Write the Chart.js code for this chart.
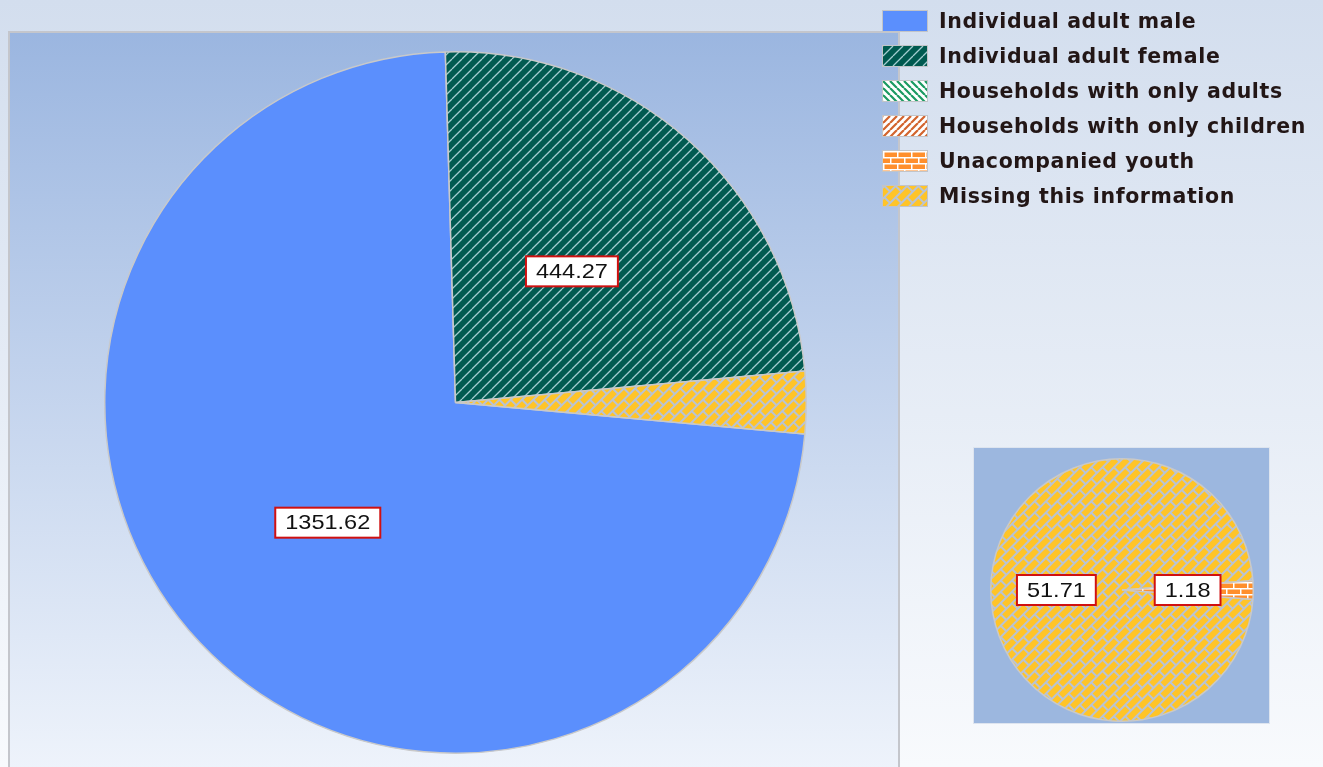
<!DOCTYPE html>
<html>
<head>
<meta charset="utf-8">
<script src="https://cdn.jsdelivr.net/npm/chart.js@4"></script>
<style>
  html, body { margin: 0; padding: 0; }
  body {
    width: 1323px; height: 767px; overflow: hidden; position: relative;
    background: linear-gradient(#d3deee, #f8fafd);
    font-family: "DejaVu Sans", sans-serif;
  }
  #plot {
    position: absolute; left: 8px; top: 31px; width: 892px; height: 740px;
    border: 2px solid #c4c6cc; box-sizing: border-box;
    background: linear-gradient(#9bb6e0, #eef3fb);
  }
  #mainWrap { position: absolute; left: 102px; top: 49px; width: 707px; height: 707px; }
  #subBox {
    position: absolute; left: 973px; top: 447px; width: 297px; height: 277px;
    background: #9cb7df; border: 1px solid #dde4ef; box-sizing: border-box;
  }
  #subWrap { position: absolute; left: 988px; top: 456px; width: 268px; height: 268px; }
  #legend { position: absolute; left: 882px; top: 3px; }
  .item { display: flex; align-items: center; height: 35px; }
  .item canvas { border: 1px solid #c2c4c8; margin-right: 11px; }
  .item span { font-size: 20.5px; font-weight: bold; color: #221616; letter-spacing: 0.6px; }
</style>
</head>
<body>
<div id="plot"></div>
<div id="mainWrap"><canvas id="mainPie"></canvas></div>
<div id="subBox"></div>
<div id="subWrap"><canvas id="subPie"></canvas></div>
<div id="legend"></div>
<script>
// data
const categories = [
  "Individual adult male",
  "Individual adult female",
  "Households with only adults",
  "Households with only children",
  "Unacompanied youth",
  "Missing this information",
]
const values = [1351.62, 444.27, 0, 0, 1.18, 51.71]

// which categories go into the small pie
const splitIndexes = [5, 4]

// --- patterns ---
function lineTile(bg, fg, dir, step, width) {
  const c = document.createElement("canvas")
  c.width = step; c.height = step
  const ctx = c.getContext("2d")
  ctx.fillStyle = bg
  ctx.fillRect(0, 0, step, step)
  ctx.strokeStyle = fg
  ctx.lineWidth = width
  ctx.beginPath()
  for (let k = -1; k <= 1; k++) {
    if (dir == "/") {
      ctx.moveTo(k * step, step); ctx.lineTo(k * step + step, 0)
    } else {
      ctx.moveTo(k * step, 0); ctx.lineTo(k * step + step, step)
    }
  }
  ctx.stroke()
  return ctx.createPattern(c, "repeat")
}

function brickTile(bg, mortar, len, h, gap, angle) {
  const c = document.createElement("canvas")
  c.width = len; c.height = h * 2
  const ctx = c.getContext("2d")
  ctx.fillStyle = mortar
  ctx.fillRect(0, 0, len, h * 2)
  ctx.fillStyle = bg
  ctx.fillRect(gap, gap, len - gap, h - gap)
  ctx.fillRect(0, h + gap, len / 2, h - gap)
  ctx.fillRect(len / 2 + gap, h + gap, len / 2 - gap, h - gap)
  const p = ctx.createPattern(c, "repeat")
  if (angle) p.setTransform(new DOMMatrix().rotate(angle))
  return p
}

const fills = [
  "#5b8ffd",
  lineTile("#005a50", "rgba(190,225,230,0.85)", "/", 10, 1.3),
  lineTile("#ffffff", "#1b9a62", "\\", 7, 2.2),
  lineTile("#ffffff", "#d2642e", "/", 7, 2.2),
  brickTile("#ff8f2c", "#ffffff", 14, 6, 1.5, 0),
  brickTile("#ffc428", "#b9c3d4", 16, 8, 2, -45),
]

// --- legend ---
const legend = document.getElementById("legend")
categories.forEach((name, i) => {
  const row = document.createElement("div")
  row.className = "item"
  const sw = document.createElement("canvas")
  sw.width = 44; sw.height = 20
  const sctx = sw.getContext("2d")
  sctx.fillStyle = fills[i]
  sctx.fillRect(0, 0, 44, 20)
  const label = document.createElement("span")
  label.textContent = name
  row.appendChild(sw)
  row.appendChild(label)
  legend.appendChild(row)
})

// --- value boxes on slices ---
const boxLabels = {
  id: "boxLabels",
  afterDatasetsDraw(chart, args, opts) {
    const ctx = chart.ctx
    const meta = chart.getDatasetMeta(0)
    const texts = opts.texts || []
    meta.data.forEach((arc, i) => {
      if (!texts[i]) return
      const pos = arc.getCenterPoint()
      ctx.save()
      ctx.font = "21px 'Liberation Sans', Arial, sans-serif"
      const w = ctx.measureText(texts[i]).width * 1.12 + 20
      const h = 30
      ctx.fillStyle = "#ffffff"
      ctx.fillRect(pos.x - w / 2, pos.y - h / 2, w, h)
      ctx.strokeStyle = "#d01010"
      ctx.lineWidth = 2
      ctx.strokeRect(pos.x - w / 2, pos.y - h / 2, w, h)
      ctx.translate(pos.x, pos.y + 1)
      ctx.scale(1.12, 1)
      ctx.fillStyle = "#111111"
      ctx.textAlign = "center"
      ctx.textBaseline = "middle"
      ctx.fillText(texts[i], 0, 0)
      ctx.restore()
    })
  },
}

function pieOptions(rotation, texts) {
  return {
    responsive: true,
    maintainAspectRatio: false,
    animation: false,
    rotation: rotation,
    layout: { padding: 2 },
    plugins: {
      legend: { display: false },
      tooltip: { enabled: false },
      boxLabels: { texts: texts },
    },
  }
}

// main pie: male, female, then everything else as one slice
const otherTotal = values.slice(2).reduce((a, b) => a + b, 0)
const mainValues = [values[0], values[1], otherTotal]
const mainTotal = mainValues.reduce((a, b) => a + b, 0)
const otherDeg = (otherTotal / mainTotal) * 360

new Chart(document.getElementById("mainPie"), {
  type: "pie",
  data: {
    labels: [categories[0], categories[1], "Other"],
    datasets: [{
      data: mainValues,
      backgroundColor: [fills[0], fills[1], fills[5]],
      borderColor: "#c9c9c9",
      borderWidth: 1.5,
    }],
  },
  options: pieOptions(90 + otherDeg / 2, mainValues.map((v, i) => i < 2 ? v.toFixed(2) : null)),
  plugins: [boxLabels],
})

// secondary pie: the "other" slice broken out
const subValues = splitIndexes.map((i) => values[i])
const youthDeg = (subValues[1] / otherTotal) * 360

new Chart(document.getElementById("subPie"), {
  type: "pie",
  data: {
    labels: splitIndexes.map((i) => categories[i]),
    datasets: [{
      data: subValues,
      backgroundColor: splitIndexes.map((i) => fills[i]),
      borderColor: "#c9c9c9",
      borderWidth: 1.5,
    }],
  },
  options: pieOptions(90 + youthDeg / 2, subValues.map((v) => v.toFixed(2))),
  plugins: [boxLabels],
})
</script>
</body>
</html>
